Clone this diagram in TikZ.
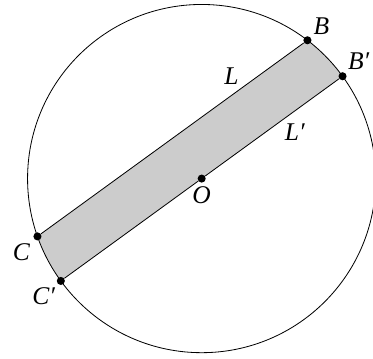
\documentclass[tikz,border=0pt]{standalone}
\usepackage{fontspec}
\setmainfont{Liberation Serif}
\usetikzlibrary{calc}
\tikzset{
  pt/.style={circle, fill=black, inner sep=1.4pt},
}
\begin{document}
\begin{tikzpicture}[line width=0.4pt, font=\fontsize{12.5}{14}\selectfont\itshape]
  \useasboundingbox (-3.475,-3.108) rectangle (2.952,3.077);
  % Strip between L and L'
  \fill[gray!40] (216:3) -- (36:3) arc[start angle=36, end angle=52.6, radius=3]
    -- (199.4:3) arc[start angle=199.4, end angle=216, radius=3] -- cycle;
  % Circle
  \draw (0,0) circle[radius=3];
  % Points
  \node[pt, label={[label distance=-3pt]55:B}] (B) at (52.6:3) {};
  \node[pt, label={[label distance=-3pt]15:B′}] (Bp) at (36:3) {};
  \node[pt, label={[label distance=-2pt]190:C}] (C) at (199.4:3) {};
  \node[pt, label={[label distance=-3pt]212:C′}] (Cp) at (216:3) {};
  \node[pt, label={[label distance=-2pt]below:O}] (O) at (0,0) {};
  % Chords
  \draw (C) -- node[pos=0.765, above left, inner sep=1.5pt]{L} (B);
  \draw (Cp) -- (O) -- node[pos=0.57, below right, inner sep=1.5pt]{L′} (Bp);
\end{tikzpicture}
\end{document}
